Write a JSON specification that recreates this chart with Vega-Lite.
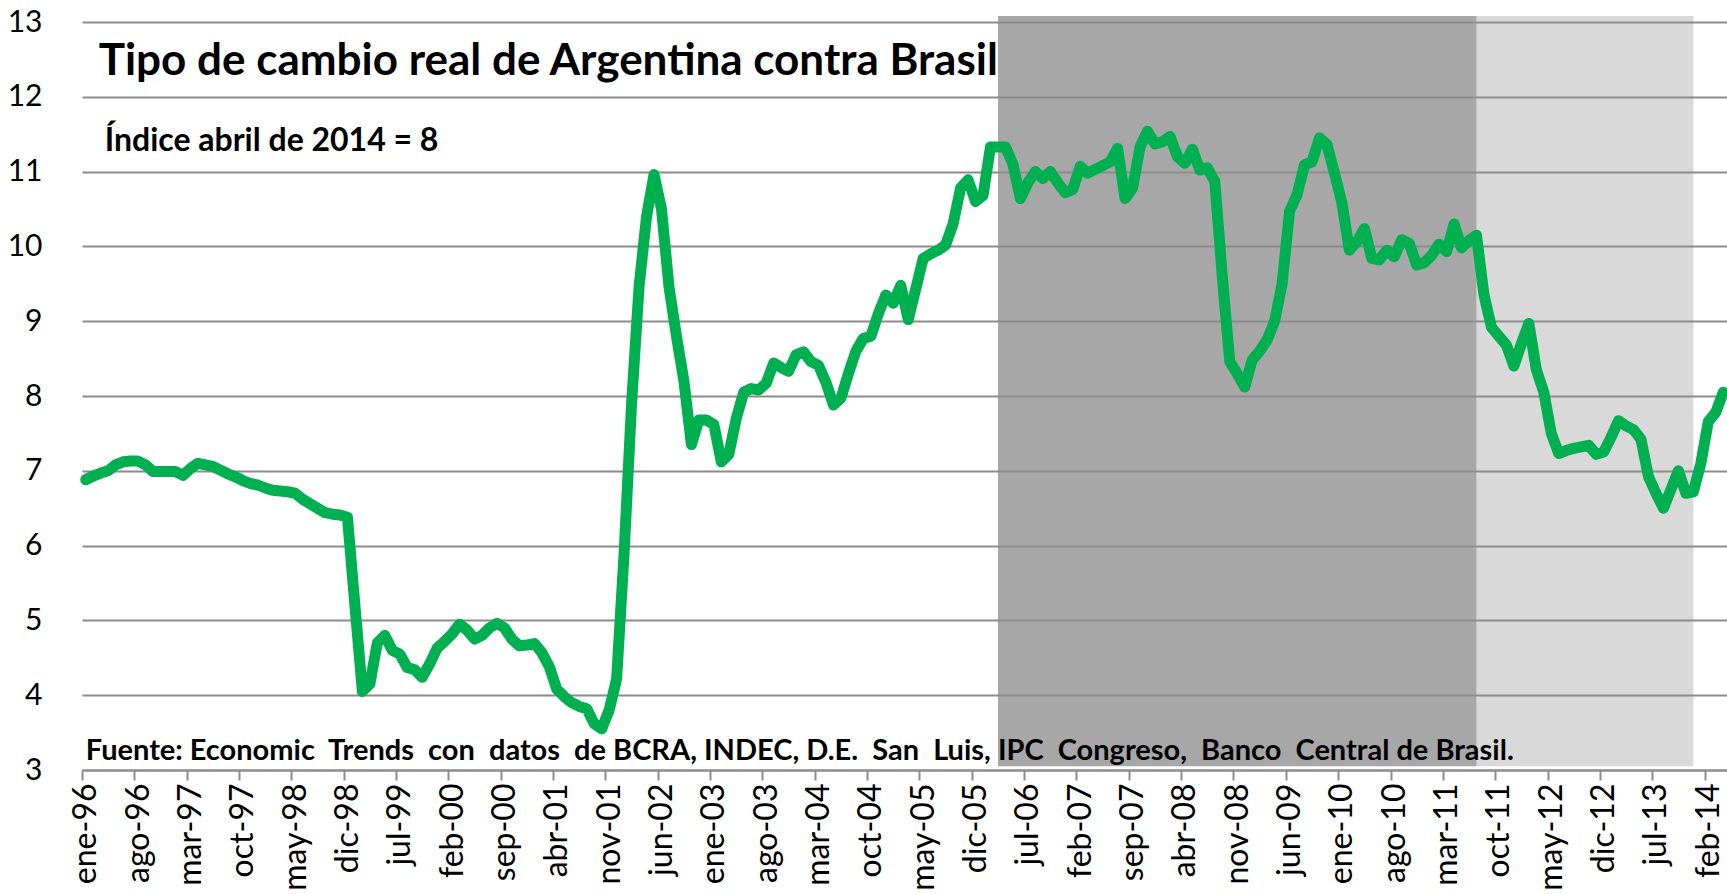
{
  "$schema": "https://vega.github.io/schema/vega-lite/v6.json",
  "autosize": "none",
  "width": 1645,
  "height": 748,
  "padding": {"left": 82, "top": 22, "right": 0, "bottom": 124},
  "background": "white",
  "config": {"font": "Lato", "view": {"stroke": null}},
  "datasets": {
    "serie": [
      {"mes":"ene-96","valor":6.88},{"mes":"feb-96","valor":6.93},{"mes":"mar-96","valor":6.97},{"mes":"abr-96","valor":7.00},{"mes":"may-96","valor":7.08},{"mes":"jun-96","valor":7.12},{"mes":"jul-96","valor":7.13},{"mes":"ago-96","valor":7.13},{"mes":"sep-96","valor":7.08},{"mes":"oct-96","valor":6.99},{"mes":"nov-96","valor":6.99},{"mes":"dic-96","valor":6.99},
      {"mes":"ene-97","valor":6.99},{"mes":"feb-97","valor":6.94},{"mes":"mar-97","valor":7.03},{"mes":"abr-97","valor":7.10},{"mes":"may-97","valor":7.08},{"mes":"jun-97","valor":7.06},{"mes":"jul-97","valor":7.01},{"mes":"ago-97","valor":6.96},{"mes":"sep-97","valor":6.92},{"mes":"oct-97","valor":6.87},{"mes":"nov-97","valor":6.83},{"mes":"dic-97","valor":6.81},
      {"mes":"ene-98","valor":6.77},{"mes":"feb-98","valor":6.74},{"mes":"mar-98","valor":6.73},{"mes":"abr-98","valor":6.72},{"mes":"may-98","valor":6.70},{"mes":"jun-98","valor":6.62},{"mes":"jul-98","valor":6.56},{"mes":"ago-98","valor":6.50},{"mes":"sep-98","valor":6.44},{"mes":"oct-98","valor":6.42},{"mes":"nov-98","valor":6.41},{"mes":"dic-98","valor":6.38},
      {"mes":"ene-99","valor":5.20},{"mes":"feb-99","valor":4.05},{"mes":"mar-99","valor":4.15},{"mes":"abr-99","valor":4.70},{"mes":"may-99","valor":4.80},{"mes":"jun-99","valor":4.60},{"mes":"jul-99","valor":4.55},{"mes":"ago-99","valor":4.37},{"mes":"sep-99","valor":4.34},{"mes":"oct-99","valor":4.24},{"mes":"nov-99","valor":4.42},{"mes":"dic-99","valor":4.63},
      {"mes":"ene-00","valor":4.72},{"mes":"feb-00","valor":4.82},{"mes":"mar-00","valor":4.95},{"mes":"abr-00","valor":4.87},{"mes":"may-00","valor":4.75},{"mes":"jun-00","valor":4.80},{"mes":"jul-00","valor":4.90},{"mes":"ago-00","valor":4.96},{"mes":"sep-00","valor":4.90},{"mes":"oct-00","valor":4.75},{"mes":"nov-00","valor":4.66},{"mes":"dic-00","valor":4.67},
      {"mes":"ene-01","valor":4.69},{"mes":"feb-01","valor":4.57},{"mes":"mar-01","valor":4.38},{"mes":"abr-01","valor":4.08},{"mes":"may-01","valor":3.98},{"mes":"jun-01","valor":3.90},{"mes":"jul-01","valor":3.85},{"mes":"ago-01","valor":3.82},{"mes":"sep-01","valor":3.62},{"mes":"oct-01","valor":3.55},{"mes":"nov-01","valor":3.80},{"mes":"dic-01","valor":4.22},
      {"mes":"ene-02","valor":5.90},{"mes":"feb-02","valor":7.90},{"mes":"mar-02","valor":9.46},{"mes":"abr-02","valor":10.40},{"mes":"may-02","valor":10.96},{"mes":"jun-02","valor":10.50},{"mes":"jul-02","valor":9.46},{"mes":"ago-02","valor":8.80},{"mes":"sep-02","valor":8.20},{"mes":"oct-02","valor":7.35},{"mes":"nov-02","valor":7.68},{"mes":"dic-02","valor":7.68},
      {"mes":"ene-03","valor":7.62},{"mes":"feb-03","valor":7.12},{"mes":"mar-03","valor":7.22},{"mes":"abr-03","valor":7.70},{"mes":"may-03","valor":8.05},{"mes":"jun-03","valor":8.10},{"mes":"jul-03","valor":8.08},{"mes":"ago-03","valor":8.17},{"mes":"sep-03","valor":8.44},{"mes":"oct-03","valor":8.38},{"mes":"nov-03","valor":8.33},{"mes":"dic-03","valor":8.55},
      {"mes":"ene-04","valor":8.59},{"mes":"feb-04","valor":8.46},{"mes":"mar-04","valor":8.41},{"mes":"abr-04","valor":8.18},{"mes":"may-04","valor":7.88},{"mes":"jun-04","valor":7.97},{"mes":"jul-04","valor":8.30},{"mes":"ago-04","valor":8.60},{"mes":"sep-04","valor":8.77},{"mes":"oct-04","valor":8.80},{"mes":"nov-04","valor":9.10},{"mes":"dic-04","valor":9.35},
      {"mes":"ene-05","valor":9.24},{"mes":"feb-05","valor":9.48},{"mes":"mar-05","valor":9.02},{"mes":"abr-05","valor":9.43},{"mes":"may-05","valor":9.84},{"mes":"jun-05","valor":9.90},{"mes":"jul-05","valor":9.95},{"mes":"ago-05","valor":10.02},{"mes":"sep-05","valor":10.30},{"mes":"oct-05","valor":10.78},{"mes":"nov-05","valor":10.89},{"mes":"dic-05","valor":10.60},
      {"mes":"ene-06","valor":10.68},{"mes":"feb-06","valor":11.33},{"mes":"mar-06","valor":11.33},{"mes":"abr-06","valor":11.33},{"mes":"may-06","valor":11.10},{"mes":"jun-06","valor":10.64},{"mes":"jul-06","valor":10.85},{"mes":"ago-06","valor":11.00},{"mes":"sep-06","valor":10.91},{"mes":"oct-06","valor":11.00},{"mes":"nov-06","valor":10.85},{"mes":"dic-06","valor":10.72},
      {"mes":"ene-07","valor":10.76},{"mes":"feb-07","valor":11.07},{"mes":"mar-07","valor":10.98},{"mes":"abr-07","valor":11.03},{"mes":"may-07","valor":11.08},{"mes":"jun-07","valor":11.13},{"mes":"jul-07","valor":11.31},{"mes":"ago-07","valor":10.64},{"mes":"sep-07","valor":10.78},{"mes":"oct-07","valor":11.33},{"mes":"nov-07","valor":11.54},{"mes":"dic-07","valor":11.37},
      {"mes":"ene-08","valor":11.40},{"mes":"feb-08","valor":11.47},{"mes":"mar-08","valor":11.20},{"mes":"abr-08","valor":11.11},{"mes":"may-08","valor":11.30},{"mes":"jun-08","valor":11.02},{"mes":"jul-08","valor":11.05},{"mes":"ago-08","valor":10.87},{"mes":"sep-08","valor":9.60},{"mes":"oct-08","valor":8.46},{"mes":"nov-08","valor":8.30},{"mes":"dic-08","valor":8.12},
      {"mes":"ene-09","valor":8.48},{"mes":"feb-09","valor":8.60},{"mes":"mar-09","valor":8.75},{"mes":"abr-09","valor":9.00},{"mes":"may-09","valor":9.50},{"mes":"jun-09","valor":10.47},{"mes":"jul-09","valor":10.69},{"mes":"ago-09","valor":11.09},{"mes":"sep-09","valor":11.13},{"mes":"oct-09","valor":11.45},{"mes":"nov-09","valor":11.36},{"mes":"dic-09","valor":10.98},
      {"mes":"ene-10","valor":10.58},{"mes":"feb-10","valor":9.95},{"mes":"mar-10","valor":10.06},{"mes":"abr-10","valor":10.24},{"mes":"may-10","valor":9.84},{"mes":"jun-10","valor":9.82},{"mes":"jul-10","valor":9.95},{"mes":"ago-10","valor":9.86},{"mes":"sep-10","valor":10.09},{"mes":"oct-10","valor":10.04},{"mes":"nov-10","valor":9.75},{"mes":"dic-10","valor":9.78},
      {"mes":"ene-11","valor":9.88},{"mes":"feb-11","valor":10.03},{"mes":"mar-11","valor":9.93},{"mes":"abr-11","valor":10.30},{"mes":"may-11","valor":9.98},{"mes":"jun-11","valor":10.08},{"mes":"jul-11","valor":10.15},{"mes":"ago-11","valor":9.35},{"mes":"sep-11","valor":8.92},{"mes":"oct-11","valor":8.80},{"mes":"nov-11","valor":8.68},{"mes":"dic-11","valor":8.40},
      {"mes":"ene-12","valor":8.70},{"mes":"feb-12","valor":8.97},{"mes":"mar-12","valor":8.35},{"mes":"abr-12","valor":8.05},{"mes":"may-12","valor":7.50},{"mes":"jun-12","valor":7.23},{"mes":"jul-12","valor":7.27},{"mes":"ago-12","valor":7.30},{"mes":"sep-12","valor":7.32},{"mes":"oct-12","valor":7.34},{"mes":"nov-12","valor":7.22},{"mes":"dic-12","valor":7.25},
      {"mes":"ene-13","valor":7.45},{"mes":"feb-13","valor":7.67},{"mes":"mar-13","valor":7.60},{"mes":"abr-13","valor":7.55},{"mes":"may-13","valor":7.42},{"mes":"jun-13","valor":6.92},{"mes":"jul-13","valor":6.70},{"mes":"ago-13","valor":6.50},{"mes":"sep-13","valor":6.75},{"mes":"oct-13","valor":7.00},{"mes":"nov-13","valor":6.70},{"mes":"dic-13","valor":6.72},
      {"mes":"ene-14","valor":7.10},{"mes":"feb-14","valor":7.66},{"mes":"mar-14","valor":7.78},{"mes":"abr-14","valor":8.05}
    ],
    "periodos": [
      {"inicio":"mar-06","fin":"jul-11","tono":"oscuro"},
      {"inicio":"jul-11","fin":"dic-13","tono":"claro"}
    ]
  },
  "layer": [
    {
      "data": {"name": "periodos"},
      "mark": {"type": "rect"},
      "encoding": {
        "x": {"field": "inicio", "type": "ordinal"},
        "x2": {"field": "fin"},
        "y": {"datum": 3.05, "type": "quantitative"},
        "y2": {"datum": 13.08},
        "fill": {"field": "tono", "type": "nominal", "legend": null,
          "scale": {"domain": ["oscuro", "claro"], "range": ["#8c8c8c", "#8c8c8c"]}},
        "opacity": {"field": "tono", "type": "nominal", "legend": null,
          "scale": {"domain": ["oscuro", "claro"], "range": [0.77, 0.33]}}
      }
    },
    {
      "data": {"name": "serie"},
      "mark": {"type": "line", "color": "#00b050", "strokeWidth": 11, "strokeJoin": "round", "strokeCap": "round"},
      "encoding": {
        "x": {
          "field": "mes", "type": "ordinal",
          "scale": {"type": "point", "padding": 0.5, "domain": [
            "ene-96","feb-96","mar-96","abr-96","may-96","jun-96","jul-96","ago-96","sep-96","oct-96","nov-96","dic-96",
            "ene-97","feb-97","mar-97","abr-97","may-97","jun-97","jul-97","ago-97","sep-97","oct-97","nov-97","dic-97",
            "ene-98","feb-98","mar-98","abr-98","may-98","jun-98","jul-98","ago-98","sep-98","oct-98","nov-98","dic-98",
            "ene-99","feb-99","mar-99","abr-99","may-99","jun-99","jul-99","ago-99","sep-99","oct-99","nov-99","dic-99",
            "ene-00","feb-00","mar-00","abr-00","may-00","jun-00","jul-00","ago-00","sep-00","oct-00","nov-00","dic-00",
            "ene-01","feb-01","mar-01","abr-01","may-01","jun-01","jul-01","ago-01","sep-01","oct-01","nov-01","dic-01",
            "ene-02","feb-02","mar-02","abr-02","may-02","jun-02","jul-02","ago-02","sep-02","oct-02","nov-02","dic-02",
            "ene-03","feb-03","mar-03","abr-03","may-03","jun-03","jul-03","ago-03","sep-03","oct-03","nov-03","dic-03",
            "ene-04","feb-04","mar-04","abr-04","may-04","jun-04","jul-04","ago-04","sep-04","oct-04","nov-04","dic-04",
            "ene-05","feb-05","mar-05","abr-05","may-05","jun-05","jul-05","ago-05","sep-05","oct-05","nov-05","dic-05",
            "ene-06","feb-06","mar-06","abr-06","may-06","jun-06","jul-06","ago-06","sep-06","oct-06","nov-06","dic-06",
            "ene-07","feb-07","mar-07","abr-07","may-07","jun-07","jul-07","ago-07","sep-07","oct-07","nov-07","dic-07",
            "ene-08","feb-08","mar-08","abr-08","may-08","jun-08","jul-08","ago-08","sep-08","oct-08","nov-08","dic-08",
            "ene-09","feb-09","mar-09","abr-09","may-09","jun-09","jul-09","ago-09","sep-09","oct-09","nov-09","dic-09",
            "ene-10","feb-10","mar-10","abr-10","may-10","jun-10","jul-10","ago-10","sep-10","oct-10","nov-10","dic-10",
            "ene-11","feb-11","mar-11","abr-11","may-11","jun-11","jul-11","ago-11","sep-11","oct-11","nov-11","dic-11",
            "ene-12","feb-12","mar-12","abr-12","may-12","jun-12","jul-12","ago-12","sep-12","oct-12","nov-12","dic-12",
            "ene-13","feb-13","mar-13","abr-13","may-13","jun-13","jul-13","ago-13","sep-13","oct-13","nov-13","dic-13",
            "ene-14","feb-14","mar-14","abr-14"
          ]},
          "axis": {
            "title": null,
            "values": ["ene-96","ago-96","mar-97","oct-97","may-98","dic-98","jul-99","feb-00","sep-00","abr-01","nov-01","jun-02","ene-03","ago-03","mar-04","oct-04","may-05","dic-05","jul-06","feb-07","sep-07","abr-08","nov-08","jun-09","ene-10","ago-10","mar-11","oct-11","may-12","dic-12","jul-13","feb-14"],
            "labelAngle": 270,
            "labelFontSize": 32,
            "labelColor": "#000000",
            "labelPadding": 3,
            "labelOffset": 3.74,
            "tickOffset": -3.74,
            "ticks": true,
            "tickSize": 10,
            "tickWidth": 2,
            "tickColor": "#8c8c8c",
            "domain": true,
            "domainColor": "#8c8c8c",
            "domainWidth": 2,
            "grid": false
          }
        },
        "y": {
          "field": "valor", "type": "quantitative",
          "scale": {"domain": [3, 13], "nice": false, "zero": false},
          "axis": {
            "title": null,
            "values": [3,4,5,6,7,8,9,10,11,12,13],
            "format": "d",
            "labelFontSize": 30,
            "labelColor": "#000000",
            "labelPadding": 40,
            "ticks": false,
            "domain": false,
            "grid": true,
            "gridColor": "#8c8c8c",
            "gridWidth": 2
          }
        }
      }
    },
    {
      "data": {"values": [{}]},
      "mark": {"type": "text", "text": "Tipo de cambio real de Argentina contra Brasil", "font": "Lato", "fontWeight": "bold", "fontSize": 44, "align": "left", "baseline": "alphabetic", "color": "#000000", "dx": -2},
      "encoding": {"x": {"datum": "mar-96", "type": "ordinal"}, "y": {"datum": 12.29, "type": "quantitative"}}
    },
    {
      "data": {"values": [{}]},
      "mark": {"type": "text", "text": "Índice abril de 2014 = 8", "font": "Lato", "fontWeight": "bold", "fontSize": 32, "align": "left", "baseline": "alphabetic", "color": "#000000", "dx": 4},
      "encoding": {"x": {"datum": "mar-96", "type": "ordinal"}, "y": {"datum": 11.28, "type": "quantitative"}}
    },
    {
      "data": {"values": [{}]},
      "mark": {"type": "text", "text": "Fuente: Economic \u00a0Trends \u00a0con \u00a0datos \u00a0de BCRA, INDEC, D.E. \u00a0San \u00a0Luis, IPC \u00a0Congreso, \u00a0Banco \u00a0Central de Brasil.", "font": "Lato", "fontWeight": "bold", "fontSize": 29, "align": "left", "baseline": "alphabetic", "color": "#000000"},
      "encoding": {"x": {"datum": "ene-96", "type": "ordinal"}, "y": {"datum": 3.14, "type": "quantitative"}}
    }
  ]
}
